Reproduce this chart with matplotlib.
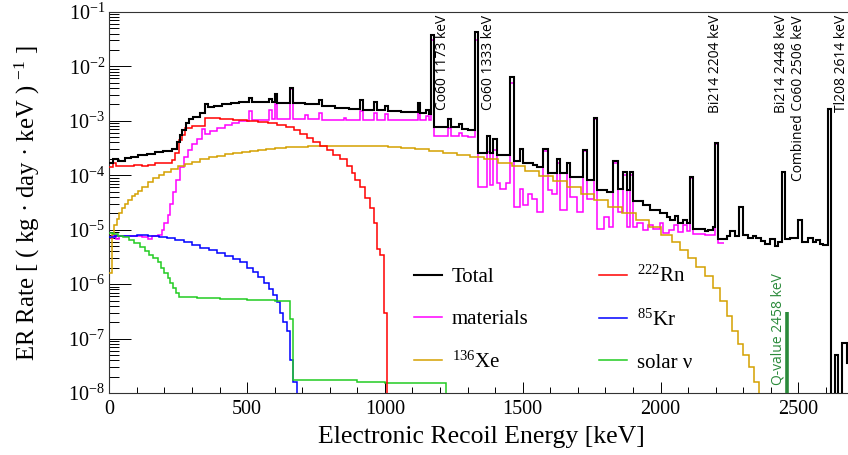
import matplotlib.pyplot as plt
import matplotlib.transforms as mtransforms
import numpy as np
from matplotlib.lines import Line2D
from matplotlib.ticker import MultipleLocator, FixedLocator

plt.rcParams['font.family'] = ['Liberation Serif', 'DejaVu Serif']
plt.rcParams['mathtext.fontset'] = 'custom'
plt.rcParams['mathtext.rm'] = 'Liberation Serif'
plt.rcParams['mathtext.it'] = 'Liberation Serif:italic'
plt.rcParams['mathtext.bf'] = 'Liberation Serif:bold'

# ---- data: lower bin edges [keV] and rate [ (kg day keV)^-1 ] ----
# total
total_lo = [0, 15, 33, 57, 80, 105, 135, 166, 196, 226,
            245, 256, 265, 277, 289, 305, 329, 347, 359, 380,
            408, 440, 470, 508, 518, 580, 590, 600, 610, 657,
            667, 710, 760, 770, 820, 870, 910, 920, 960, 970,
            1000, 1010, 1060, 1119, 1129, 1150, 1160, 1168, 1178, 1230,
            1240, 1270, 1280, 1300, 1328, 1338, 1370, 1382, 1394, 1406,
            1455, 1467, 1490, 1502, 1539, 1551, 1575, 1593, 1623, 1635,
            1660, 1672, 1720, 1732, 1759, 1771, 1805, 1829, 1847, 1865,
            1877, 1889, 1901, 1938, 1962, 1998, 2022, 2035, 2053, 2065,
            2083, 2095, 2107, 2119, 2162, 2174, 2190, 2199, 2209, 2240,
            2252, 2270, 2286, 2298, 2316, 2334, 2346, 2364, 2380, 2398,
            2416, 2428, 2440, 2452, 2470, 2500, 2512, 2535, 2553, 2566,
            2578, 2590, 2608, 2620, 2632, 2644, 2657, 2675]
total_end = 2700
total_rate = [1.7e-4, 2.0e-4, 1.85e-4, 2.1e-4, 2.2e-4, 2.35e-4, 2.5e-4, 2.65e-4, 2.8e-4, 3.1e-4,
              4.1e-4, 5.5e-4, 6.8e-4, 9.0e-4, 1.07e-3, 1.2e-3, 1.4e-3, 2.05e-3, 1.8e-3, 1.9e-3,
              2.0e-3, 2.1e-3, 2.2e-3, 2.6e-3, 2.2e-3, 2.5e-3, 2.2e-3, 3.1e-3, 2.15e-3, 4.0e-3,
              2.1e-3, 2.05e-3, 2.4e-3, 1.9e-3, 1.75e-3, 1.65e-3, 2.4e-3, 1.6e-3, 2.2e-3, 1.55e-3,
              1.9e-3, 1.5e-3, 1.45e-3, 2.1e-3, 1.4e-3, 1.55e-3, 1.35e-3, 3.8e-2, 7.6e-4, 1.08e-3,
              7.8e-4, 8.6e-4, 7.2e-4, 6.7e-4, 4.2e-2, 2.6e-4, 5.2e-4, 2.6e-4, 4.6e-4, 2.4e-4,
              6.3e-3, 1.8e-4, 3.1e-4, 1.7e-4, 1.55e-4, 1.4e-4, 3.1e-4, 1.1e-4, 2.0e-4, 1.08e-4,
              1.7e-4, 9.4e-5, 2.9e-4, 8.2e-5, 1.15e-3, 5.3e-5, 5.0e-5, 1.8e-4, 5.7e-5, 1.15e-4,
              5.3e-5, 1.15e-4, 3.3e-5, 2.8e-5, 2.3e-5, 2.0e-5, 1.7e-5, 1.5e-5, 1.8e-5, 1.3e-5,
              1.5e-5, 1.3e-5, 9.4e-5, 1.05e-5, 9.5e-6, 1.0e-5, 1.1e-5, 3.9e-4, 6.8e-6, 7.8e-6,
              9.5e-6, 7.5e-6, 2.6e-5, 8.1e-6, 7.0e-6, 7.6e-6, 7.0e-6, 6.2e-6, 5.5e-6, 6.8e-6,
              5.1e-6, 6.0e-6, 1.15e-4, 6.8e-6, 7.0e-6, 1.5e-5, 6.0e-6, 6.9e-6, 6.0e-6, 6.5e-6,
              5.5e-6, 5.3e-6, 1.65e-3, 0, 5.0e-8, 0, 8.3e-8, 3.5e-8]

# detector materials
mat_lo = [0, 12, 24, 36, 60, 90, 120, 140, 155, 175,
          190, 200, 212, 222, 232, 242, 255, 270, 285, 300,
          318, 336, 348, 365, 390, 420, 445, 470, 508, 518,
          580, 590, 600, 610, 657, 667, 710, 720, 760, 770,
          850, 860, 910, 920, 960, 970, 1000, 1010, 1119, 1129,
          1150, 1160, 1168, 1178, 1230, 1240, 1270, 1280, 1300, 1328,
          1338, 1370, 1382, 1394, 1406, 1418, 1440, 1455, 1467, 1490,
          1502, 1520, 1533, 1551, 1575, 1593, 1605, 1623, 1635, 1660,
          1672, 1696, 1720, 1732, 1759, 1771, 1795, 1813, 1829, 1847,
          1865, 1877, 1889, 1901, 1913, 1938, 1956, 1974, 1998, 2010,
          2030, 2050, 2065, 2083, 2095, 2107, 2119, 2160, 2199, 2209]
mat_end = 2230
mat_rate = [7.0e-6, 8.0e-6, 6.8e-6, 7.8e-6, 7.5e-6, 7.8e-6, 7.2e-6, 6.8e-6, 7.6e-6, 8.0e-6,
            1.0e-5, 1.3e-5, 1.9e-5, 3.0e-5, 5.0e-5, 8.2e-5, 1.4e-4, 2.2e-4, 2.9e-4, 3.8e-4,
            4.6e-4, 7.0e-4, 5.8e-4, 6.6e-4, 7.5e-4, 8.3e-4, 9.0e-4, 1.0e-3, 1.5e-3, 1.05e-3,
            1.55e-3, 1.1e-3, 2.0e-3, 1.1e-3, 3.8e-3, 1.1e-3, 1.3e-3, 1.1e-3, 1.4e-3, 1.05e-3,
            1.15e-3, 1.05e-3, 1.5e-3, 1.05e-3, 1.4e-3, 1.05e-3, 1.35e-3, 1.05e-3, 1.4e-3, 1.05e-3,
            1.25e-3, 1.05e-3, 3.0e-2, 5.2e-4, 7.5e-4, 5.2e-4, 6.0e-4, 5.2e-4, 5.0e-4, 3.0e-2,
            6.1e-5, 2.7e-4, 6.6e-5, 2.9e-4, 7.1e-5, 5.7e-5, 7.2e-5, 5.0e-3, 2.6e-5, 5.7e-5,
            2.8e-5, 4.6e-5, 3.7e-5, 2.1e-5, 2.8e-4, 5.3e-5, 4.6e-5, 1.7e-4, 2.3e-5, 1.7e-4,
            4.0e-5, 2.1e-5, 2.8e-4, 3.7e-5, 1.1e-3, 1.05e-5, 1.7e-5, 1.1e-5, 1.7e-4, 2.1e-5,
            1.0e-4, 1.1e-5, 1.0e-4, 1.1e-5, 1.3e-5, 9.8e-6, 1.2e-5, 1.05e-5, 1.3e-5, 8.6e-6,
            1.0e-5, 1.2e-5, 9.0e-6, 1.2e-5, 9.5e-6, 9.0e-5, 8.5e-6, 8.0e-6, 3.8e-4, 5.7e-6]

# 222Rn
rn_lo = [0, 15, 25, 45, 70, 90, 120, 140, 166, 200,
         226, 240, 252, 263, 275, 300, 347, 400, 450, 500,
         540, 575, 610, 640, 670, 692, 716, 740, 765, 789,
         813, 837, 862, 880, 892, 910, 928, 946, 960, 971,
         983, 995, 1007]
rn_end = 2000
rn_rate = [1.4e-4, 1.65e-4, 1.45e-4, 1.5e-4, 1.45e-4, 1.55e-4, 1.5e-4, 1.55e-4, 1.65e-4, 1.7e-4,
           1.9e-4, 2.6e-4, 4.5e-4, 5.5e-4, 7.5e-4, 8.0e-4, 1.12e-3, 1.1e-3, 1.05e-3, 1.0e-3,
           9.5e-4, 9.0e-4, 8.3e-4, 7.6e-4, 6.8e-4, 5.8e-4, 4.8e-4, 4.1e-4, 3.4e-4, 2.9e-4,
           2.4e-4, 1.95e-4, 1.5e-4, 1.1e-4, 8.2e-5, 6.1e-5, 3.9e-5, 2.5e-5, 1.3e-5, 4.4e-6,
           3.5e-6, 3.0e-7, 0]

# 85Kr
kr_lo = [0, 20, 60, 100, 140, 180, 210, 240, 270, 300,
         330, 360, 390, 420, 450, 475, 500, 520, 540, 560,
         580, 595, 608, 620, 632, 644, 656, 668, 680]
kr_end = 1000
kr_rate = [7.4e-6, 7.6e-6, 7.7e-6, 7.9e-6, 7.8e-6, 7.4e-6, 7.0e-6, 6.5e-6, 5.9e-6, 5.2e-6,
           4.7e-6, 4.2e-6, 3.7e-6, 3.3e-6, 2.9e-6, 2.5e-6, 2.0e-6, 1.7e-6, 1.35e-6, 1.05e-6,
           8.0e-7, 6.2e-7, 4.6e-7, 2.9e-7, 2.0e-7, 1.4e-7, 4.0e-8, 1.6e-8, 0]

# 136Xe (2 neutrino double beta)
xe_lo = [0, 9, 18, 27, 36, 45, 57, 69, 81, 93,
         105, 120, 140, 160, 180, 200, 225, 250, 275, 300,
         330, 360, 390, 420, 450, 480, 510, 540, 570, 600,
         640, 680, 720, 770, 830, 900, 960, 1010, 1060, 1110,
         1160, 1210, 1260, 1310, 1360, 1410, 1460, 1510, 1560, 1610,
         1660, 1710, 1760, 1810, 1860, 1910, 1960, 2000, 2040, 2070,
         2100, 2130, 2160, 2190, 2215, 2240, 2260, 2280, 2300, 2320,
         2340, 2356]
xe_end = 2700
xe_rate = [1.6e-6, 8.5e-6, 1.2e-5, 1.6e-5, 2.0e-5, 2.5e-5, 3.0e-5, 3.5e-5, 4.1e-5, 4.6e-5,
           5.2e-5, 6.0e-5, 7.4e-5, 9.0e-5, 1.03e-4, 1.15e-4, 1.32e-4, 1.48e-4, 1.6e-4, 1.75e-4,
           1.95e-4, 2.15e-4, 2.3e-4, 2.45e-4, 2.6e-4, 2.72e-4, 2.82e-4, 2.92e-4, 3.02e-4, 3.12e-4,
           3.25e-4, 3.35e-4, 3.42e-4, 3.47e-4, 3.5e-4, 3.48e-4, 3.42e-4, 3.33e-4, 3.15e-4, 3.0e-4,
           2.8e-4, 2.6e-4, 2.4e-4, 2.2e-4, 1.95e-4, 1.7e-4, 1.45e-4, 1.2e-4, 9.8e-5, 7.8e-5,
           6.0e-5, 4.6e-5, 3.5e-5, 2.6e-5, 2.0e-5, 1.5e-5, 1.1e-5, 8.0e-6, 6.0e-6, 4.3e-6,
           3.0e-6, 2.1e-6, 1.4e-6, 8.5e-7, 5.0e-7, 2.6e-7, 1.4e-7, 8.0e-8, 5.0e-8, 3.0e-8,
           1.6e-8, 0]

# solar neutrinos
sol_lo = [0, 12, 30, 50, 70, 90, 110, 128, 145, 160,
          175, 188, 200, 212, 222, 232, 243, 253, 320, 400,
          500, 600, 655, 667, 900, 1000, 1220]
sol_end = 2360
sol_rate = [8.8e-6, 8.3e-6, 7.7e-6, 7.2e-6, 6.4e-6, 5.6e-6, 4.8e-6, 4.1e-6, 3.5e-6, 3.0e-6,
            2.5e-6, 2.0e-6, 1.6e-6, 1.3e-6, 1.05e-6, 8.5e-7, 6.8e-7, 5.8e-7, 5.6e-7, 5.4e-7,
            5.2e-7, 5.0e-7, 2.3e-7, 1.7e-8, 1.6e-8, 1.55e-8, 0]

# Q-value marker
q_energy = 2458
q_height = 3.1e-7

peak_labels = ['Co60 1173 keV', 'Co60 1333 keV', 'Bi214 2204 keV',
               'Bi214 2448 keV', 'Combined Co60 2506 keV', 'Tl208 2614 keV']
peak_label_x = [1210, 1375, 2198, 2440, 2500, 2657]

x_ticks = [0, 500, 1000, 1500, 2000, 2500]
y_ticks = [1e-8, 1e-7, 1e-6, 1e-5, 1e-4, 1e-3, 1e-2, 1e-1]


def edges(lo, end):
    return np.array(lo + [end], dtype=float)


fig = plt.figure(figsize=(8.48, 4.55), dpi=100)
ax = fig.add_axes([0.1289, 0.1363, 0.8775, 0.8374])
ax.set_yscale('log', nonpositive='clip')

c_tot, c_mat, c_rn = 'black', '#ff00ff', '#ff0000'
c_kr, c_xe, c_sol, c_q = '#0000ff', '#d4a000', '#22cc22', '#2a8a3a'

ax.stairs(mat_rate, edges(mat_lo, mat_end), baseline=None, color=c_mat, lw=1.1, zorder=2)
ax.stairs(xe_rate, edges(xe_lo, xe_end), baseline=None, color=c_xe, lw=1.1, zorder=3)
ax.stairs(kr_rate, edges(kr_lo, kr_end), baseline=None, color=c_kr, lw=1.1, zorder=4)
ax.stairs(sol_rate, edges(sol_lo, sol_end), baseline=None, color=c_sol, lw=1.1, zorder=5)
ax.stairs(rn_rate, edges(rn_lo, rn_end), baseline=None, color=c_rn, lw=1.1, zorder=6)
ax.stairs(total_rate, edges(total_lo, total_end), baseline=None, color=c_tot, lw=1.5, zorder=7)

ax.set_xlim(0, 2700)
ax.set_ylim(1e-8, 1e-1)
ax.vlines([q_energy], ax.get_ylim()[0], [q_height], color=c_q, lw=2.6, zorder=8)

trans = mtransforms.blended_transform_factory(ax.transData, ax.transAxes)
for s, x in zip(peak_labels, peak_label_x):
    ax.text(x, 0.992, s, rotation=90, ha='center', va='top', transform=trans,
            fontsize=10, family='Open Sans', zorder=9)
ax.text(2427, 0.021, 'Q-value 2458 keV', rotation=90, ha='center', va='bottom',
        transform=trans, fontsize=10, family='Open Sans', color=c_q, zorder=9)

# ticks, ROOT style
ax.xaxis.set_major_locator(FixedLocator(x_ticks))
ax.xaxis.set_minor_locator(MultipleLocator(100))
ax.yaxis.set_major_locator(FixedLocator(y_ticks))
ax.tick_params(axis='x', which='major', direction='in', length=8, width=0.7,
               labelsize=14.5, pad=5, top=False)
ax.tick_params(axis='x', which='minor', direction='in', length=4, width=0.7, top=False)
ax.tick_params(axis='y', which='major', direction='in', length=16, width=0.7,
               labelsize=14.5, pad=3, right=False)
ax.tick_params(axis='y', which='minor', direction='in', length=7, width=0.7, right=False)
for sp in ax.spines.values():
    sp.set_linewidth(0.8)
    sp.set_color('#333333')

fig.text(481 / 848, 1 - 443 / 455, 'Electronic Recoil Energy [keV]', ha='center',
         va='baseline', fontsize=18.5)
fig.text(27 / 848, 1 - 203 / 455, 'ER Rate [ ( kg · day · keV ) $^{-1}$ ]', ha='center',
         va='center', rotation=90, fontsize=17.8)

handles = [Line2D([], [], color=c_tot, lw=1.5), Line2D([], [], color=c_mat, lw=1.1),
           Line2D([], [], color=c_xe, lw=1.1), Line2D([], [], color=c_rn, lw=1.1),
           Line2D([], [], color=c_kr, lw=1.1), Line2D([], [], color=c_sol, lw=1.1)]
labels = ['Total', 'materials', '$^{136}$Xe', '$^{222}$Rn', '$^{85}$Kr', 'solar ν']
ax.legend(handles, labels, ncol=2, frameon=False, fontsize=15, loc='upper left',
          bbox_to_anchor=(414 / 848, 1 - 266 / 455), bbox_transform=fig.transFigure,
          borderpad=0, borderaxespad=0, handlelength=1.35, handletextpad=0.45,
          columnspacing=3.4, labelspacing=1.07)

fig.savefig('out.png', dpi=100)
